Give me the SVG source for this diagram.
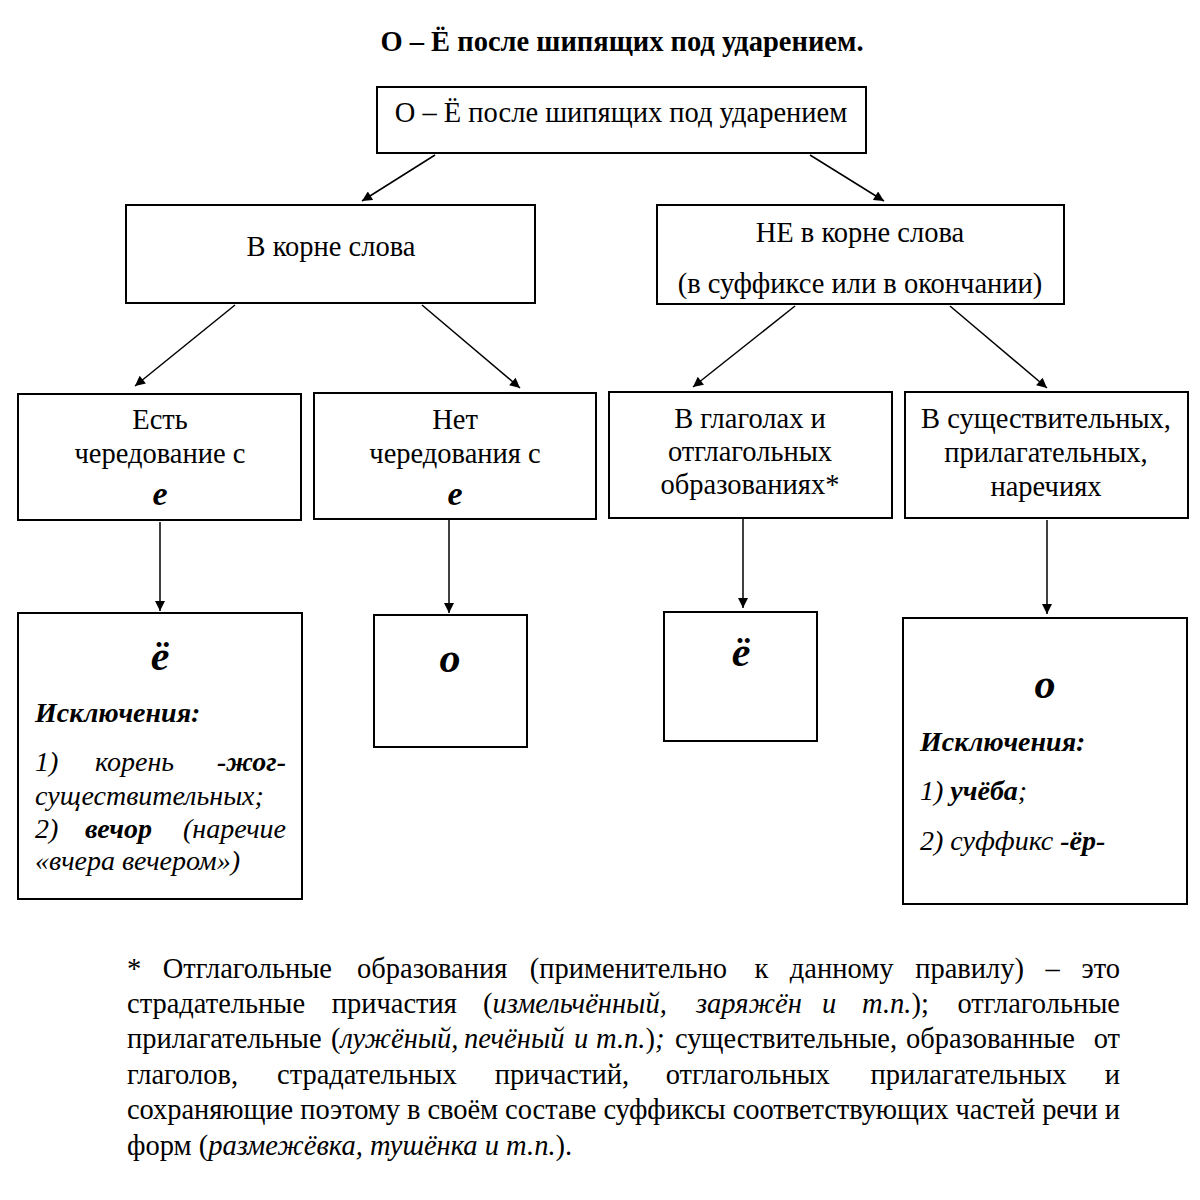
<svg xmlns="http://www.w3.org/2000/svg" width="1200" height="1200" viewBox="0 0 1200 1200" font-family="'Liberation Serif', 'DejaVu Serif', serif">
<defs>
<marker id="ah" viewBox="0 0 10 10" refX="10" refY="5" markerWidth="12" markerHeight="10" markerUnits="userSpaceOnUse" orient="auto">
<path d="M0,0 L10,5 L0,10 z" fill="#000"/>
</marker>
</defs>
<style>
text{font-family:'Liberation Serif','DejaVu Serif',serif;font-size:28.5px;fill:#000}
.c{text-anchor:middle}
.box{fill:#fff;stroke:#000;stroke-width:2}
.big{font-size:42px;font-weight:bold;font-style:italic}
.bi{font-weight:bold;font-style:italic}
.i{font-style:italic}
.b{font-weight:bold}
.s{font-size:28px}
.e{text-anchor:end}
#conn line{stroke:#000;stroke-width:1.5;marker-end:url(#ah)}
</style>
<rect width="1200" height="1200" fill="#fff"/>
<text x="622" y="51" class="c b">О – Ё после шипящих под ударением.</text>

<g id="conn">
<line x1="435" y1="155" x2="362" y2="201"/>
<line x1="810" y1="155" x2="884" y2="201"/>
<line x1="235" y1="305" x2="135" y2="386"/>
<line x1="422" y1="305" x2="520" y2="388"/>
<line x1="795" y1="306" x2="693" y2="387"/>
<line x1="950" y1="306" x2="1047" y2="388"/>
<line x1="160" y1="522" x2="160" y2="611"/>
<line x1="449" y1="520" x2="449" y2="613"/>
<line x1="743" y1="519" x2="743" y2="608"/>
<line x1="1047" y1="520" x2="1047" y2="614"/>
</g>

<g id="n-top">
<rect class="box" x="377" y="87" width="489" height="66"/>
<text x="621" y="122" class="c">О – Ё после шипящих под ударением</text>
</g>
<g id="n-root">
<rect class="box" x="126" y="205" width="409" height="98"/>
<text x="331" y="256" class="c">В корне слова</text>
</g>
<g id="n-notroot">
<rect class="box" x="657" y="205" width="407" height="99"/>
<text x="860" y="242" class="c">НЕ в корне слова</text>
<text x="860" y="293" class="c">(в суффиксе или в окончании)</text>
</g>
<g id="n-alt">
<rect class="box" x="18" y="394" width="283" height="126"/>
<text x="160" y="429" class="c">Есть</text>
<text x="160" y="463" class="c">чередование с</text>
<text x="160" y="505" class="c bi" style="font-size:34px">е</text>
</g>
<g id="n-noalt">
<rect class="box" x="314" y="393" width="282" height="126"/>
<text x="455" y="429" class="c">Нет</text>
<text x="455" y="463" class="c">чередования с</text>
<text x="455" y="505" class="c bi" style="font-size:34px">е</text>
</g>
<g id="n-verb">
<rect class="box" x="609" y="392" width="283" height="126"/>
<text x="750" y="428" class="c">В глаголах и</text>
<text x="750" y="461" class="c">отглагольных</text>
<text x="750" y="494" class="c">образованиях*</text>
</g>
<g id="n-noun">
<rect class="box" x="905" y="392" width="283" height="126"/>
<text x="1046" y="428" class="c">В существительных,</text>
<text x="1046" y="462" class="c">прилагательных,</text>
<text x="1046" y="496" class="c">наречиях</text>
</g>
<g id="n-res1">
<rect class="box" x="18" y="613" width="284" height="286"/>
<text x="160" y="670" class="c big">ё</text>
<text x="35" y="722" class="bi s">Исключения:</text>
<text x="35" y="771" class="i s">1)</text>
<text x="95" y="771" class="i s">корень</text>
<text x="286" y="771" class="bi e s">-жог-</text>
<text x="35" y="805" class="i s">существительных;</text>
<text x="35" y="838" class="i s">2)</text>
<text x="85" y="838" class="bi s">вечор</text>
<text x="286" y="838" class="i e s">(наречие</text>
<text x="35" y="870" class="i s">«вчера вечером»)</text>
</g>
<g id="n-res2">
<rect class="box" x="374" y="615" width="153" height="132"/>
<text x="450" y="672" class="c big">о</text>
</g>
<g id="n-res3">
<rect class="box" x="664" y="612" width="153" height="129"/>
<text x="741" y="666" class="c big">ё</text>
</g>
<g id="n-res4">
<rect class="box" x="903" y="618" width="284" height="286"/>
<text x="1045" y="698" class="c big">о</text>
<text x="920" y="751" class="bi s">Исключения:</text>
<text x="920" y="800" class="i s">1) <tspan class="b">учёба</tspan>;</text>
<text x="920" y="850" class="i s">2) суффикс <tspan class="b">-ёр-</tspan></text>
</g>

<g id="footnote">
<text y="978"><tspan x="127">*</tspan><tspan x="162.7">Отглагольные</tspan><tspan x="357">образования</tspan><tspan x="529.8">(применительно</tspan><tspan x="754.4">к</tspan><tspan x="789.8">данному</tspan><tspan x="915.2">правилу)</tspan><tspan x="1045.5">–</tspan></text>
<text class="e" x="1120" y="978">это</text>
<text y="1013"><tspan x="127">страдательные</tspan><tspan x="331.7">причастия</tspan><tspan x="483">(</tspan><tspan class="i">измельчённый,</tspan><tspan x="696" class="i">заряжён</tspan><tspan x="822" class="i">и</tspan><tspan x="862" class="i">т.п.</tspan><tspan>);</tspan></text>
<text class="e" x="1120" y="1013">отглагольные</text>
<text y="1048"><tspan x="127">прилагательные</tspan><tspan x="331">(</tspan><tspan class="i">лужёный,</tspan><tspan x="464" class="i">печёный</tspan><tspan x="574" class="i">и</tspan><tspan x="596" class="i">т.п.</tspan><tspan>)</tspan><tspan class="i">;</tspan><tspan x="675">существительные,</tspan><tspan x="906">образованные</tspan></text>
<text class="e" x="1120" y="1048">от</text>
<text y="1084"><tspan x="127">глаголов,</tspan><tspan x="277">страдательных</tspan><tspan x="494.7">причастий,</tspan><tspan x="665.7">отглагольных</tspan><tspan x="870.4">прилагательных</tspan></text>
<text class="e" x="1120" y="1084">и</text>
<text x="127" y="1119" textLength="993" lengthAdjust="spacing">сохраняющие поэтому в своём составе суффиксы соответствующих частей речи и</text>
<text x="127" y="1155">форм (<tspan class="i">размежёвка, тушёнка и т.п.</tspan>).</text>
</g>
</svg>
